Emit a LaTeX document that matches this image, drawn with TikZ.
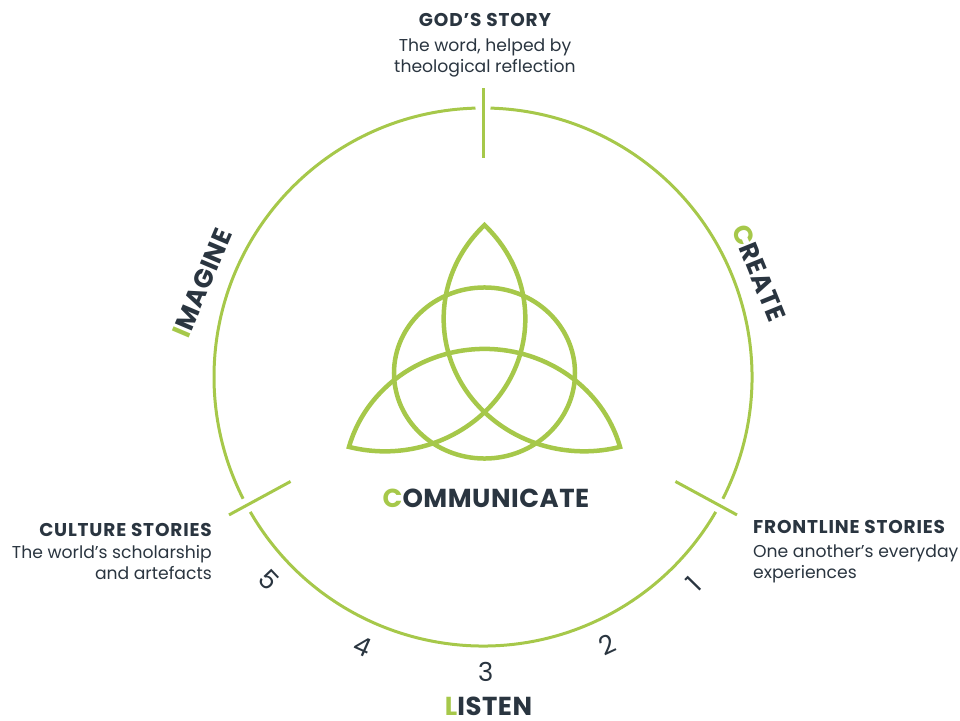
\documentclass[tikz,border=0pt]{standalone}
\usepackage{fontspec}
\setmainfont{Poppins}
\usetikzlibrary{positioning}
\definecolor{leaf}{HTML}{A6C84A}
\definecolor{ink}{HTML}{2A3540}

\begin{document}
\begin{tikzpicture}[x=1pt, y=1pt,
    ring/.style={draw=leaf, line width=3pt},
    knot/.style={draw=leaf, line width=4.5pt, line join=miter},
    head/.style={font=\fontsize{18.5}{22}\selectfont\bfseries\addfontfeature{LetterSpace=4.5}, text=ink, inner sep=0pt},
    body/.style={font=\fontsize{17.2}{21}\selectfont, text=ink, inner sep=0pt},
    stage/.style={font=\fontsize{26}{30}\selectfont\bfseries\addfontfeature{LetterSpace=2}, text=ink, inner sep=0pt},
    num/.style={font=\fontsize{26}{30}\selectfont, text=ink, inner sep=0pt}]
  \useasboundingbox (-483,-343) rectangle (477,377);
  % outer ring, broken at the three ticks
  \draw[ring] (91.6:269) arc[start angle=91.6, end angle=206.9, radius=269];
  \draw[ring] (210.1:269) arc[start angle=210.1, end angle=329.9, radius=269];
  \draw[ring] (333.1:269) arc[start angle=333.1, end angle=448.4, radius=269];
  \foreach \a in {90, 208.5, 331.5}
    \draw[ring] (\a:219) -- (\a:289);
  % triquetra and its circle
  \begin{scope}[shift={(1.5,4)}, yscale=0.945]
    \draw[knot] (0,156.5) arc[start angle=135.17, end angle=284.83, radius=140.4]
                arc[start angle=15.17, end angle=164.83, radius=140.4]
                arc[start angle=255.17, end angle=404.83, radius=140.4] -- cycle;
    \draw[knot] (0,0) circle[radius=90.5];
  \end{scope}
  % stages
  \node[stage] (communicate) at (3,-121) {\textcolor{leaf}{C}OMMUNICATE};
  \node[stage, rotate=-68] (create) at (276,104) {\textcolor{leaf}{C}REATE};
  \node[stage, rotate=67] (imagine) at (-281,94) {\textcolor{leaf}{I}MAGINE};
  \node[stage] (listen) at (5.5,-329.5) {\textcolor{leaf}{L}ISTEN};
  \foreach \n/\a in {1/-44.5, 2/-65, 3/-89.5, 4/-114, 5/-136.5}
    \node[num, rotate=\a+90] (n\n) at (\a:295) {\n};
  % the three stories
  \node[head, anchor=base] (gods) at (2,350.3) {GOD’S STORY};
  \node[body, align=center, anchor=north] (godsnote) at (2,338) {The word, helped by\\theological reflection};
  \node[head, anchor=base east] (culture) at (-271,-159) {CULTURE STORIES};
  \node[body, align=right, anchor=north east] (culturenote) at (-271,-168.5) {The world’s scholarship\\and artefacts};
  \node[head, anchor=base west] (frontline) at (270,-156) {FRONTLINE STORIES};
  \node[body, align=left, anchor=north west] (frontnote) at (270,-168) {One another’s everyday\\experiences};
\end{tikzpicture}
\end{document}
